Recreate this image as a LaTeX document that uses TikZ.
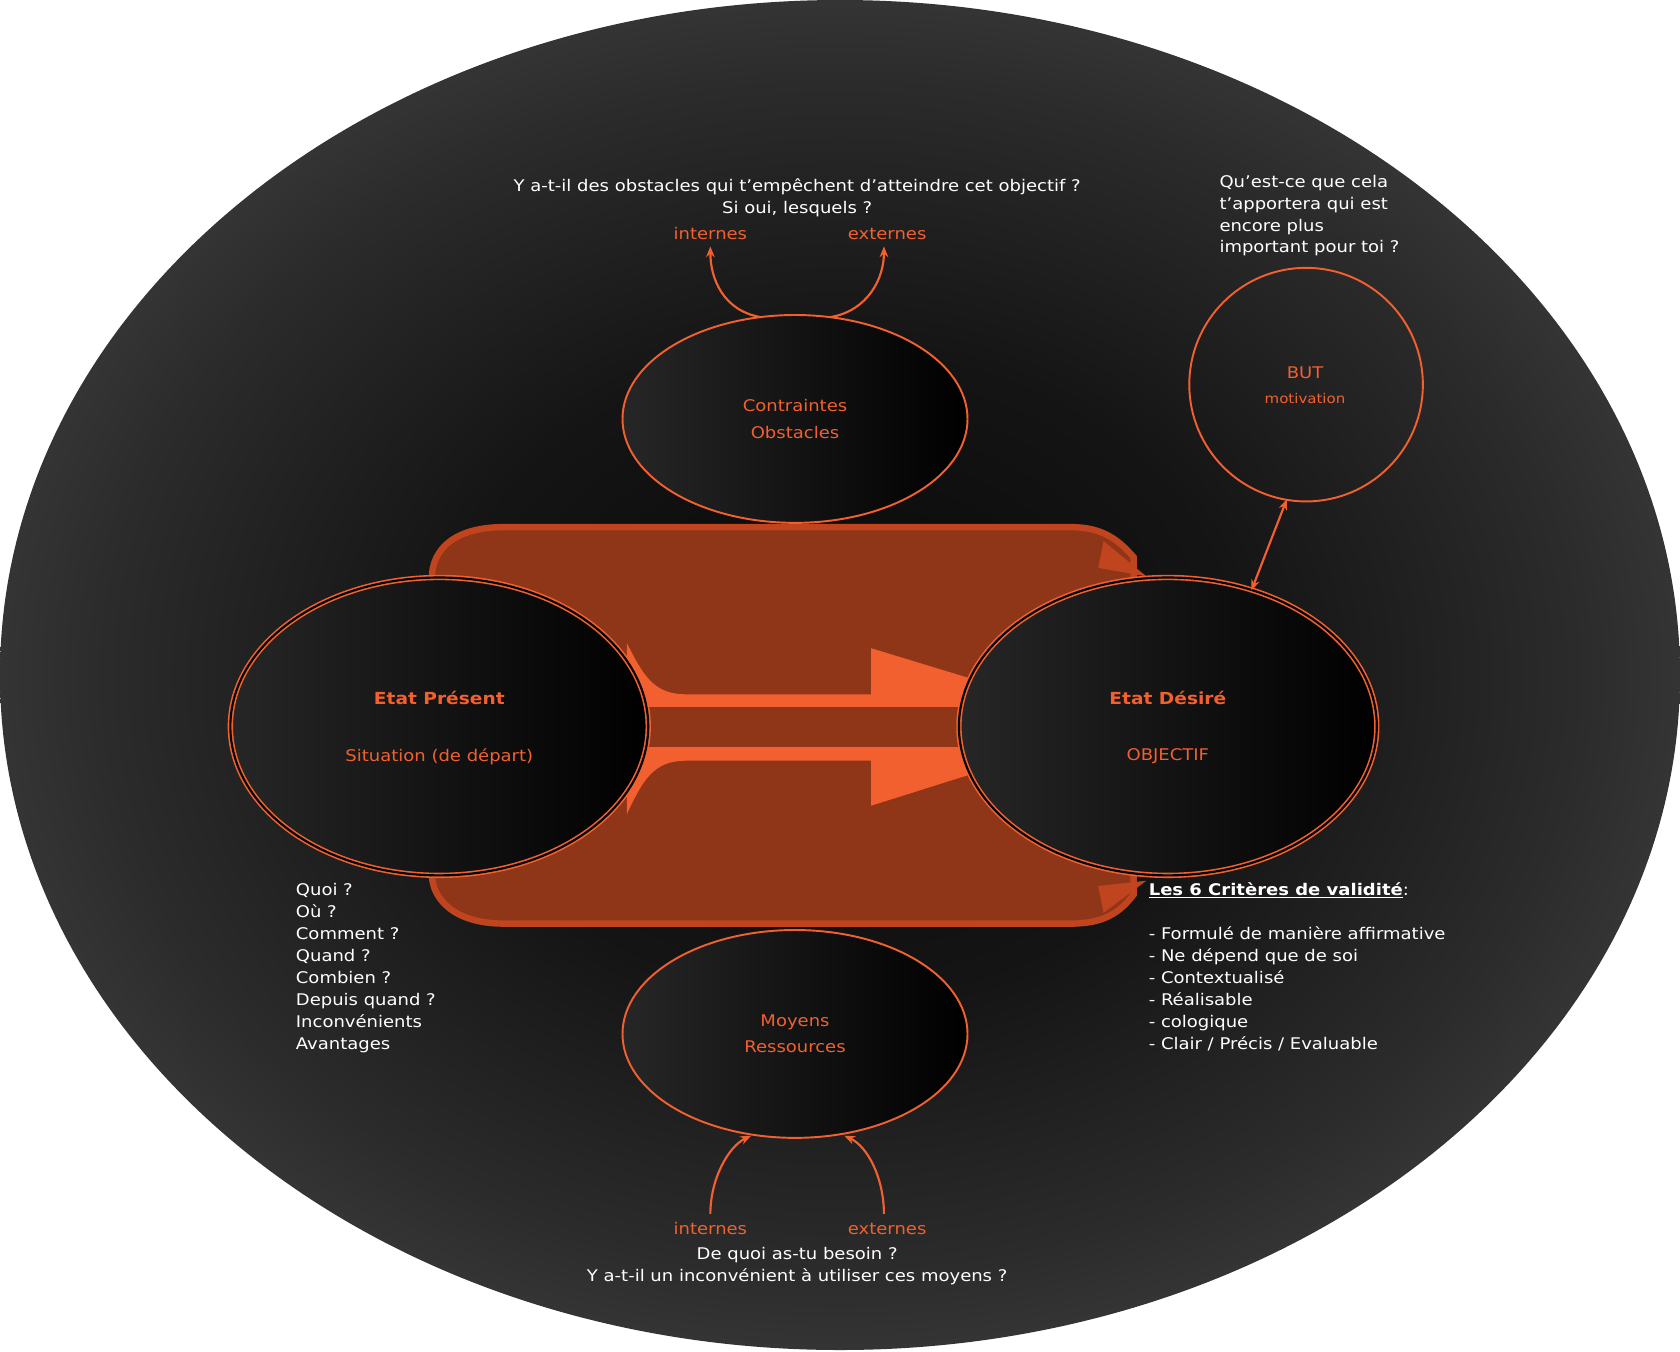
\documentclass[tikz,border=0pt]{standalone}
\usepackage{fontspec}
\setmainfont{DejaVu Sans}[FakeStretch=1.12]
\usetikzlibrary{arrows.meta}
\definecolor{org}{HTML}{F26030}
\definecolor{brn}{HTML}{8F3518}
\definecolor{brnb}{HTML}{C0451F}
\pgfdeclareradialshading{bgshade}{\pgfpoint{0bp}{0bp}}{color(0bp)=(black!97); color(12bp)=(black!92); color(22bp)=(black!83); color(35bp)=(black!68); color(50bp)=(black!65)}
\begin{document}
\begin{tikzpicture}[x=1pt,y=-1pt,
 txt/.style={text=white,font=\fontsize{15}{20.5}\selectfont,align=left,inner sep=0},
 otxt/.style={text=org,font=\fontsize{15}{20.5}\selectfont,align=center,inner sep=0},
 oell/.style={draw=org,line width=1.8pt},
 conn/.style={draw=org,line width=2pt,-{Stealth[length=10pt,width=8pt]}}]
\useasboundingbox (0,0) rectangle (1568,1261);
\fill[white] (0,0) rectangle (1568,1261);
\shade[shading=bgshade] (784,630) ellipse [x radius=784,y radius=630];
% band
\filldraw[fill=brn,draw=brnb,line width=6pt] (470,492) -- (1000,492) .. controls (1030,492) and (1045,505) .. (1058,520) -- (1058,835) .. controls (1045,852) and (1030,862) .. (1000,862) -- (470,862) .. controls (425,862) and (403,840) .. (403,815) -- (403,540) .. controls (403,512) and (425,492) .. (470,492) -- cycle;
\fill[brnb] (1030,505) -- (1070,538) -- (1025,530) -- cycle;
\fill[brnb] (1025,827) -- (1070,822) -- (1030,852) -- cycle;
% orange arrows
\fill[org] (585,600) .. controls (600,630) and (610,648) .. (640,648) -- (813,648) -- (813,605) -- (905,633) -- (905,723) -- (813,752) -- (813,710) -- (640,710) .. controls (610,710) and (600,728) .. (585,760) -- cycle;
\fill[brn] (600,660) rectangle (900,697);
% ellipses
\foreach \cx/\n in {410/L,1090/R}{
 \shade[left color=black!85,right color=black,draw=org,double=black,double distance=2pt,line width=1.5pt] (\cx,678) ellipse [x radius=195,y radius=139];
}
\node[otxt,font=\fontsize{15.5}{20}\selectfont\bfseries] (ep) at (410,651) {Etat Présent};
\node[otxt] (sit) at (410,706) {Situation (de départ)};
\node[otxt,font=\fontsize{15.5}{20}\selectfont\bfseries] (ed) at (1090,651) {Etat Désiré};
\node[otxt] (obj) at (1090,706) {OBJECTIF};
\shade[left color=black!85,right color=black,oell] (742,391) ellipse [x radius=161,y radius=97];
\node[otxt] (ct) at (742,391) {Contraintes\\[4pt]Obstacles};
\shade[left color=black!85,right color=black,oell] (742,965) ellipse [x radius=161,y radius=97];
\node[otxt] (mr) at (742,965) {Moyens\\[4pt]Ressources};
\draw[oell] (1219,359) circle (109);
\node[otxt] (but) at (1218,348) {BUT};
\node[otxt,font=\fontsize{12.5}{15}\selectfont] (mot) at (1218,372) {motivation};
% top texts
\node[txt,align=center] (q1) at (744,185) {Y a-t-il des obstacles qui t'empêchent d'atteindre cet objectif ?\\Si oui, lesquels ?};
\node[otxt] (i1) at (663,218) {internes};
\node[otxt] (e1) at (828,218) {externes};
\coordinate (c1) at (710,296);
\coordinate (c2) at (775,296);
\draw[conn] (c1) .. controls (675,290) and (663,260) .. (663,230);
\draw[conn] (c2) .. controls (810,290) and (825,260) .. (825,230);
% bottom texts
\node[otxt] (i2) at (663,1147) {internes};
\node[otxt] (e2) at (828,1147) {externes};
\node[txt,align=center] (q2) at (744,1182) {De quoi as-tu besoin ?\\Y a-t-il un inconvénient à utiliser ces moyens ?};
\coordinate (c3) at (663,1133);
\coordinate (c4) at (825,1133);
\draw[conn] (c3) .. controls (663,1100) and (680,1070) .. (701,1060);
\draw[conn] (c4) .. controls (825,1100) and (810,1070) .. (788,1060);
% BUT
\node[txt,anchor=north west] (qc) at (1138,163) {Qu'est-ce que cela\\t'apportera qui est\\encore plus\\important pour toi ?};
\coordinate (b1) at (1201,466);
\coordinate (b2) at (1168,551);
\draw[draw=org,line width=2pt,{Stealth[length=10pt,width=8pt]}-{Stealth[length=10pt,width=8pt]}] (b1) -- (b2);
% lists
\node[txt,anchor=north west] (ql) at (276,824) {Quoi ?\\Où ?\\Comment ?\\Quand ?\\Combien ?\\Depuis quand ?\\Inconvénients\\Avantages};
\node[txt,anchor=north west] (cr) at (1072,824) {\textbf{\underline{Les 6 Critères de validité}}:\\[20.5pt]- Formulé de manière affirmative\\- Ne dépend que de soi\\- Contextualisé\\- Réalisable\\- cologique\\- Clair / Précis / Evaluable};
\end{tikzpicture}
\end{document}
